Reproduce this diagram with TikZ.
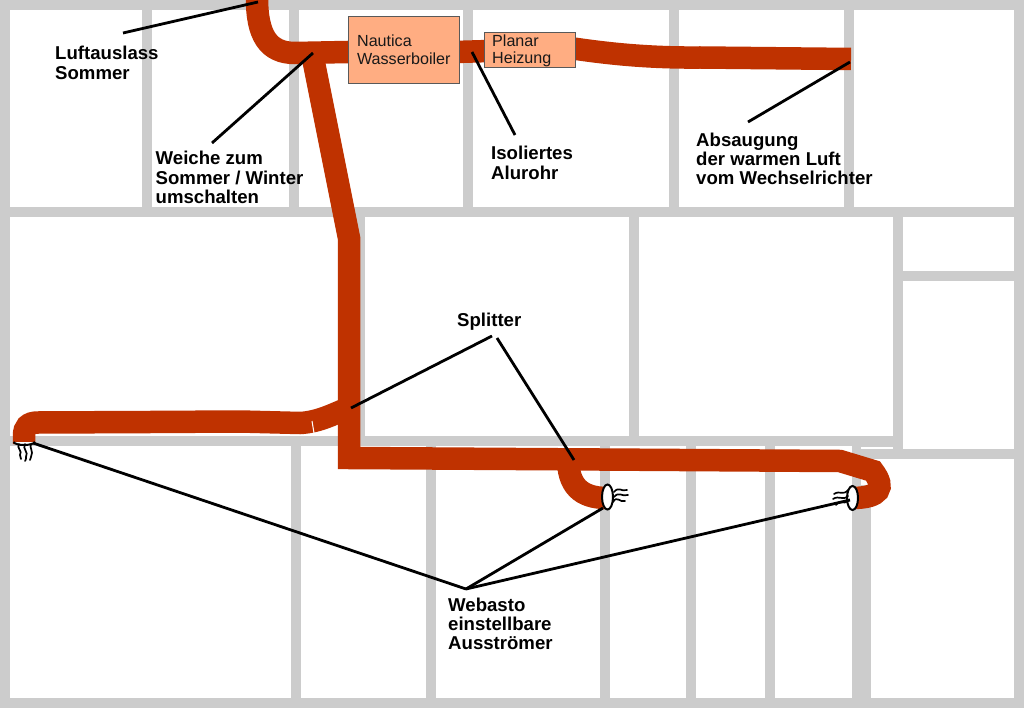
\documentclass[tikz,border=0pt]{standalone}
\usepackage{fontspec}
\usetikzlibrary{shapes.geometric}
\setmainfont{Liberation Sans}
\definecolor{wall}{HTML}{CCCCCC}
\definecolor{pipe}{HTML}{BF3200}
\definecolor{boxfill}{HTML}{FFAD82}
\tikzset{
  wallbar/.style={fill=wall,draw=none},
  pipeline/.style={draw=pipe,line width=22.5pt,line join=miter},
  lead/.style={draw=black,line width=2.8pt},
  flow/.style={draw=black,line width=1.7pt,line cap=round},
  lbl/.style={font=\fontsize{18.6}{19.4}\selectfont\bfseries,align=left,anchor=north west,inner sep=0pt,text=black},
  devbox/.style={draw=black!65,line width=0.8pt,fill=boxfill,font=\fontsize{16.1}{17.6}\selectfont,align=left,text=black!90},
  outlet/.style={draw=black,line width=2pt,fill=white}
}
\begin{document}
\begin{tikzpicture}[x=1pt,y=-1pt]
\useasboundingbox (0,0) rectangle (1024,708);
\fill[white] (0,0) rectangle (1024,708);
% outer frame
\fill[wallbar] (0,0) rectangle (1024,10);
\fill[wallbar] (0,698) rectangle (1024,708);
\fill[wallbar] (0,0) rectangle (10,708);
\fill[wallbar] (1014,0) rectangle (1024,708);
% top rooms
\foreach \a in {142,289,463,669,844} \fill[wallbar] (\a,0) rectangle (\a+10,212);
\fill[wallbar] (0,207) rectangle (1024,217);
% middle rooms
\foreach \a in {355,629,893} \fill[wallbar] (\a,212) rectangle (\a+10,445);
\fill[wallbar] (893,271) rectangle (1024,281);
\fill[wallbar] (0,436) rectangle (893,446);
\fill[wallbar] (852,445) rectangle (893,447);
\fill[wallbar] (852,449) rectangle (1024,459);
\fill[wallbar] (893,445) rectangle (903,459);
% bottom rooms
\foreach \a in {291,426,600,686,765} \fill[wallbar] (\a,440) rectangle (\a+10,700);
\fill[wallbar] (852,445) rectangle (861,490);
\fill[wallbar] (852,485) rectangle (871,700);
% pipes
\draw[pipeline] (257,-2) .. controls (257,35) and (268,53) .. (295,53) -- (348,52);
\draw[pipeline] (455,52) -- (490,51);
\draw[pipeline] (570,48) .. controls (610,54) and (650,58) .. (700,57.5) -- (851,59);
\draw[pipeline] (312,53) -- (349,238) -- (349,458) -- (600,459.5) -- (840,461) -- (873,471)
   .. controls (886,488) and (880,498) .. (852,498);
\draw[pipeline] (24,444) -- (24,436) .. controls (24,427) and (28,422.5) .. (38,422.5) -- (150,422) -- (240,421.5) -- (300,423)
   .. controls (320,422) and (335,413) .. (349,408);
\draw[pipeline] (568,458) .. controls (568,485) and (580,498) .. (607,498);
\draw[white,line width=1pt] (312,421) -- (314,433);
% boxes
\node[devbox,minimum width=111pt,minimum height=67pt,inner xsep=8.5pt,inner ysep=0pt] (boiler) at (403.8,49.5) {Nautica\\Wasserboiler};
\node[devbox,minimum width=91.5pt,minimum height=35pt,inner sep=0pt] (planar) at (530,49.5) {};
\node[font=\fontsize{16.1}{17.2}\selectfont,align=left,text=black!90,inner sep=0pt,anchor=north west] (planarText) at (492,34.5) {Planar\\Heizung};
% outlets
\draw[outlet] (13.5,442) .. controls (16,446) and (32,446) .. (35,442);
\node[outlet,ellipse,draw,minimum width=11pt,minimum height=25pt,inner sep=0pt] (outA) at (607.5,497) {};
\node[outlet,ellipse,draw,minimum width=11pt,minimum height=24pt,inner sep=0pt] (outB) at (852.5,498) {};
% air flow marks
\draw[flow] (19,444) .. controls (16,448) and (23,451) .. (20,455) .. controls (19,457) and (22,457) .. (21,459);
\draw[flow] (25,444) .. controls (22,449) and (29,452) .. (26,457) .. controls (25,459) and (27,460) .. (25,461);
\draw[flow] (31,444) .. controls (29,448) and (34,451) .. (31,457) .. controls (30,459) and (31,459) .. (30,460);
\draw[flow] (614,492) .. controls (619,486) and (621,492) .. (627,490);
\draw[flow] (614,497) .. controls (619,491) and (622,497) .. (628,495);
\draw[flow] (613,502) .. controls (617,495) and (620,503) .. (625,501);
\draw[flow] (848,490) .. controls (843,496) and (840,490) .. (834,494);
\draw[flow] (848,496) .. controls (843,501) and (839,495) .. (833,499);
\draw[flow] (848,501) .. controls (843,505) and (841,499) .. (836,505);
% labels
\node[lbl] (luft) at (55,46) {Luftauslass\\Sommer};
\node[lbl] (weiche) at (155.5,151) {Weiche zum\\Sommer / Winter\\umschalten};
\node[lbl] (iso) at (491,146) {Isoliertes\\Alurohr};
\node[lbl] (abs) at (696,132.5) {Absaugung\\der warmen Luft\\vom Wechselrichter};
\node[lbl] (split) at (457,312.5) {Splitter};
\node[lbl] (weba) at (448,597.5) {Webasto\\einstellbare\\Ausströmer};
% leader lines
\coordinate (luftT) at (123,33);
\coordinate (luftE) at (258,2);
\coordinate (weiT) at (212,143);
\coordinate (weiE) at (313,53);
\coordinate (isoT) at (515,135);
\coordinate (isoE) at (472,52);
\coordinate (absT) at (748,122);
\coordinate (absE) at (850,62);
\coordinate (spA) at (492,336);
\coordinate (spAE) at (351,408);
\coordinate (spB) at (497,338);
\coordinate (spBE) at (574,460);
\coordinate (webT) at (466,589);
\coordinate (webL) at (33,443);
\coordinate (webA) at (603,508);
\coordinate (webB) at (850,500);
\draw[lead] (luftT) -- (luftE);
\draw[lead] (weiT) -- (weiE);
\draw[lead] (isoT) -- (isoE);
\draw[lead] (absT) -- (absE);
\draw[lead] (spA) -- (spAE);
\draw[lead] (spB) -- (spBE);
\draw[lead] (webT) -- (webL);
\draw[lead] (webT) -- (webA);
\draw[lead] (webT) -- (webB);
\end{tikzpicture}
\end{document}
